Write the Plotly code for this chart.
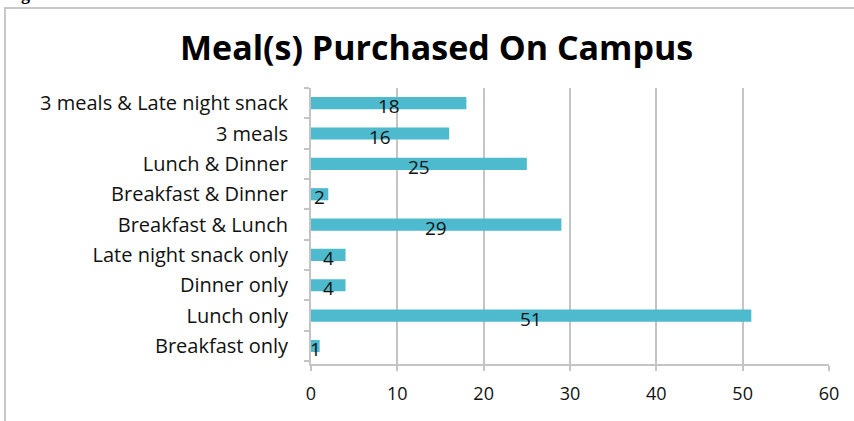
import plotly.graph_objects as go

categories = [
    "Breakfast only",
    "Lunch only",
    "Dinner only",
    "Late night snack only",
    "Breakfast & Lunch",
    "Breakfast & Dinner",
    "Lunch & Dinner",
    "3 meals",
    "3 meals & Late night snack",
]
values = [1, 51, 4, 4, 29, 2, 25, 16, 18]
x_ticks = [0, 10, 20, 30, 40, 50, 60]
title_text = "Meal(s) Purchased On Campus"
caption_text = "Figure 6:"

FONT = "Open Sans"
BAR_COLOR = "#4DBACE"
GRID = "#C4C4C4"

fig = go.Figure()
fig.add_trace(go.Bar(
    y=categories,
    x=values,
    orientation="h",
    marker=dict(color=BAR_COLOR, line=dict(width=0)),
    width=0.4,
    hoverinfo="skip",
))

for c, v in zip(categories, values):
    fig.add_annotation(
        x=v / 2, y=c, xref="x", yref="y",
        text=str(v), showarrow=False, yshift=-3,
        font=dict(family=FONT, size=19, color="#111111"),
    )

# title
fig.add_annotation(
    x=(436 - 311) / 518, y=(364 - 47) / 276, xref="paper", yref="paper",
    text="<b>" + title_text + "</b>", showarrow=False,
    xanchor="center", yanchor="middle",
    font=dict(family=FONT, size=34, color="#000000"),
)

# cropped caption at the very top
fig.add_annotation(
    x=(3 - 311) / 518, y=(364 - 6.5) / 276, xref="paper", yref="paper",
    text="<b>" + caption_text + "</b>", showarrow=False,
    xanchor="left", yanchor="bottom",
    font=dict(family="Liberation Serif", size=18, color="#000000"),
)

# chart frame
fig.add_shape(
    type="rect", xref="paper", yref="paper",
    x0=(5 - 311) / 518, x1=1.3, y0=-0.4, y1=(364 - 8) / 276,
    line=dict(color="#C8C8C8", width=2), fillcolor="rgba(0,0,0,0)",
    layer="below",
)

fig.update_layout(
    width=854, height=421,
    margin=dict(l=311, r=25, t=88, b=57),
    paper_bgcolor="white", plot_bgcolor="white",
    showlegend=False,
    font=dict(family=FONT, size=18, color="#111111"),
)
fig.update_xaxes(
    range=[0, 60], tickvals=x_ticks, ticktext=[str(t) for t in x_ticks],
    showgrid=True, gridcolor=GRID, gridwidth=2,
    showline=True, linecolor=GRID, linewidth=2,
    ticks="outside", ticklen=5, tickcolor=GRID, tickwidth=2,
    ticklabelstandoff=7,
    tickfont=dict(family=FONT, size=18, color="#111111"),
    zeroline=False, fixedrange=True,
)
fig.update_yaxes(
    categoryorder="array", categoryarray=categories,
    showgrid=False,
    showline=True, linecolor=GRID, linewidth=2,
    ticks="outside", ticklen=5, tickcolor=GRID, tickwidth=2,
    tickson="boundaries",
    ticklabelstandoff=17,
    tickfont=dict(family=FONT, size=20, color="#111111"),
    fixedrange=True,
)

fig.write_html(
    "out.html",
    config={"displayModeBar": False, "staticPlot": True},
    post_script="document.body.style.margin='0';document.body.style.overflow='hidden';",
)
